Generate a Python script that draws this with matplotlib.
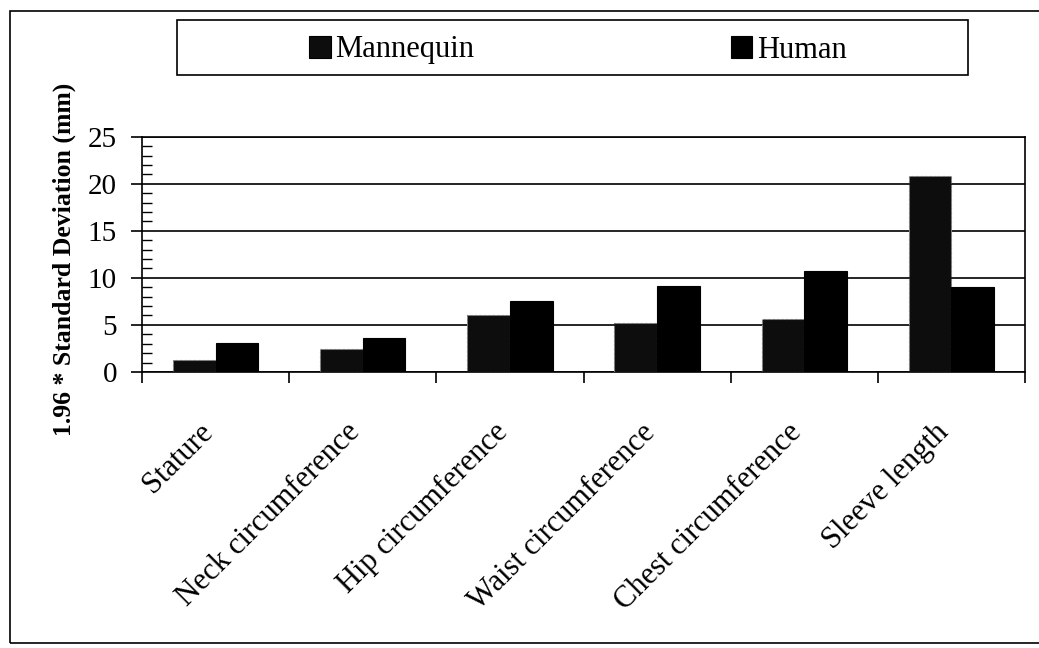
import numpy as np
import matplotlib.pyplot as plt
import matplotlib.transforms as mtransforms
from matplotlib.patches import Rectangle
from matplotlib.ticker import MultipleLocator

categories = ['Stature', 'Neck circumference', 'Hip circumference',
              'Waist circumference', 'Chest circumference', 'Sleeve length']
mannequin = [1.3, 2.4, 6.0, 5.2, 5.6, 20.8]
human = [3.1, 3.6, 7.5, 9.1, 10.7, 9.0]

plt.rcParams['font.family'] = ['Liberation Serif', 'DejaVu Serif']

fig = plt.figure(figsize=(10.39, 6.48), dpi=100)
ax = fig.add_axes([0.1367, 0.426, 0.8498, 0.363])

x = np.arange(len(categories))
w = 0.29
ax.bar(x - w / 2, mannequin, w, color='#0d0d0d', edgecolor='#7a7a7a',
       linewidth=0.8, linestyle=(0, (2, 2)), label='Mannequin', zorder=3)
ax.bar(x + w / 2, human, w, color='black', edgecolor='black',
       linewidth=0.8, label='Human', zorder=3)

ax.set_xlim(-0.5, len(categories) - 0.5)
ax.set_ylim(0, 25)
ax.yaxis.set_major_locator(MultipleLocator(5))
ax.yaxis.set_minor_locator(MultipleLocator(1))
ax.grid(axis='y', color='black', linewidth=1.2, zorder=0)
for s in ax.spines.values():
    s.set_linewidth(1.2)

# ticks at category boundaries, rotated names under each category centre
ax.set_xticks(np.arange(len(categories) + 1) - 0.5)
ax.set_xticklabels([])
ax.tick_params(axis='x', length=8, width=1.2, direction='out')
lbl_trans = ax.get_xaxis_transform() + mtransforms.ScaledTranslation(
    -0.17, -0.46, fig.dpi_scale_trans)
for xi, name in zip(x, categories):
    ax.text(xi, 0, name, transform=lbl_trans, rotation=45, ha='right', va='top',
            rotation_mode='anchor', fontsize=22)

ax.tick_params(axis='y', which='major', length=8, width=1.2, direction='out',
               labelsize=21, pad=10)
ax.tick_params(axis='y', which='minor', length=7, width=1.0, direction='in')

ax.set_ylabel('1.96 * Standard Deviation (mm)', fontsize=18.5, fontweight='bold',
              va='center')
ax.yaxis.set_label_coords(-0.0885, 0.4766)

leg = fig.legend(loc='center', bbox_to_anchor=(578 / 1039, 1 - 50 / 648), ncol=2,
                 fontsize=22, frameon=False, handlelength=0.7,
                 handleheight=0.75, handletextpad=0.15, columnspacing=8.4,
                 borderpad=0)
for h in leg.legend_handles:
    h.set_edgecolor('black')
    h.set_linestyle('-')

# legend box and outer chart border
fig.patches.append(Rectangle((177 / 1039, 1 - 75 / 648), 791 / 1039, 55 / 648,
                             transform=fig.transFigure, fill=False,
                             edgecolor='black', linewidth=1.2))
fig.patches.append(Rectangle((10 / 1039, 0.008), 1.1, 1 - 11 / 648 - 0.008,
                             transform=fig.transFigure, fill=False,
                             edgecolor='black', linewidth=1.2))

fig.savefig('out.png', dpi=100)
